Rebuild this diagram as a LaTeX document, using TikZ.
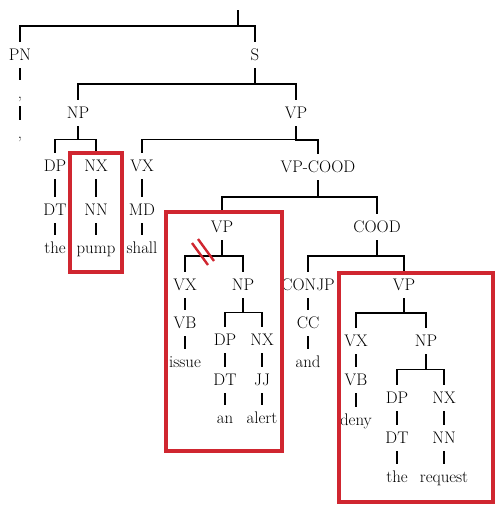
\documentclass[tikz,border=0pt]{standalone}
\usetikzlibrary{calc}
\definecolor{boxred}{RGB}{208,38,48}
\tikzset{
  tag/.style={font=\fontsize{16.8}{19}\selectfont, text height=11.6pt, text depth=0pt, inner xsep=1pt, inner ysep=7pt},
  lnk/.style={line width=1.4pt},
  lnkb/.style={line width=2.6pt},
  hl/.style={draw=boxred, line width=4pt},
  slash/.style={draw=boxred, line width=2.4pt}
}
\begin{document}
\begin{tikzpicture}[x=1pt,y=-1pt]
  \useasboundingbox (0,0) rectangle (495,506);
  % top levels
  \coordinate (root) at (238,10);
  \coordinate (rootbar) at (238,26);
  \node[tag] (PN) at (20,55) {PN};
  \node[tag] (S) at (255,55) {S};
  \node[tag] (comA) at (20,93) {,};
  \node[tag] (comB) at (20,133) {,};
  \node[tag] (NPa) at (78,113) {NP};
  \node[tag] (VPa) at (296,113) {VP};
  % subject
  \node[tag] (DPa) at (55,166) {DP};
  \node[tag] (NXa) at (96,166) {NX};
  \node[tag] (DTa) at (55,210) {DT};
  \node[tag] (NNa) at (96,210) {NN};
  \node[tag] (the1) at (55,248) {the};
  \node[tag] (pump) at (96,248) {pump};
  % modal
  \node[tag] (VXa) at (142,166) {VX};
  \node[tag] (MDa) at (142,210) {MD};
  \node[tag] (shall) at (142,248) {shall};
  \node[tag] (VPC) at (318,167) {VP-COOD};
  % first conjunct
  \node[tag] (VPb) at (222,227) {VP};
  \node[tag] (VXb) at (185,285) {VX};
  \node[tag] (VBb) at (185,323) {VB};
  \node[tag] (issue) at (185,362) {issue};
  \node[tag] (NPb) at (243,285) {NP};
  \node[tag] (DPb) at (225,340) {DP};
  \node[tag] (NXb) at (262,340) {NX};
  \node[tag] (DTb) at (225,380) {DT};
  \node[tag] (JJb) at (262,380) {JJ};
  \node[tag] (an) at (225,418) {an};
  \node[tag] (alert) at (262,418) {alert};
  % coordination
  \node[tag] (COOD) at (377,227) {COOD};
  \node[tag] (CONJP) at (308,285) {CONJP};
  \node[tag] (CC) at (308,323) {CC};
  \node[tag] (and) at (308,362) {and};
  % second conjunct
  \node[tag] (VPd) at (404,285) {VP};
  \node[tag] (VXd) at (356,341) {VX};
  \node[tag] (VBd) at (356,380) {VB};
  \node[tag] (deny) at (356,420) {deny};
  \node[tag] (NPd) at (426,341) {NP};
  \node[tag] (DPd) at (397,398) {DP};
  \node[tag] (NXd) at (444,398) {NX};
  \node[tag] (DTd) at (397,438) {DT};
  \node[tag] (NNd) at (444,438) {NN};
  \node[tag] (the2) at (397,477) {the};
  \node[tag] (request) at (444,477) {request};

  \draw[lnk] (root) -- (rootbar) -| (PN.north);
  \draw[lnk] (rootbar) -| (S.north);
  \foreach \p/\c/\s in {PN/comA/lnk,comA/comB/lnk,S/NPa/lnk,S/VPa/lnk,
      NPa/DPa/lnk,NPa/NXa/lnk,DPa/DTa/lnk,DTa/the1/lnk,NXa/NNa/lnk,NNa/pump/lnk,
      VPa/VXa/lnk,VPa/VPC/lnk,VXa/MDa/lnk,MDa/shall/lnk,
      VPC/VPb/lnk,VPC/COOD/lnk,
      VPb/VXb/lnkb,VPb/NPb/lnkb,VXb/VBb/lnkb,VBb/issue/lnkb,
      NPb/DPb/lnk,NPb/NXb/lnk,DPb/DTb/lnk,DTb/an/lnk,NXb/JJb/lnk,JJb/alert/lnk,
      COOD/CONJP/lnk,COOD/VPd/lnk,CONJP/CC/lnk,CC/and/lnk,
      VPd/VXd/lnk,VPd/NPd/lnk,VXd/VBd/lnk,VBd/deny/lnk,
      NPd/DPd/lnk,NPd/NXd/lnk,DPd/DTd/lnk,DTd/the2/lnk,NXd/NNd/lnk,NNd/request/lnk}
    {
      \draw[\s] (\p.south) |- ($(\p)!0.5!(\c)$) -| (\c.north);
    }

  % highlighted parts
  \draw[hl] (70,153) rectangle (122,272);
  \draw[hl] (166,212) rectangle (282,451);
  \draw[hl] (339,273) rectangle (493,502);
  \draw[slash] (192,243) -- (208,265);
  \draw[slash] (198,239) -- (214,261);
\end{tikzpicture}
\end{document}
